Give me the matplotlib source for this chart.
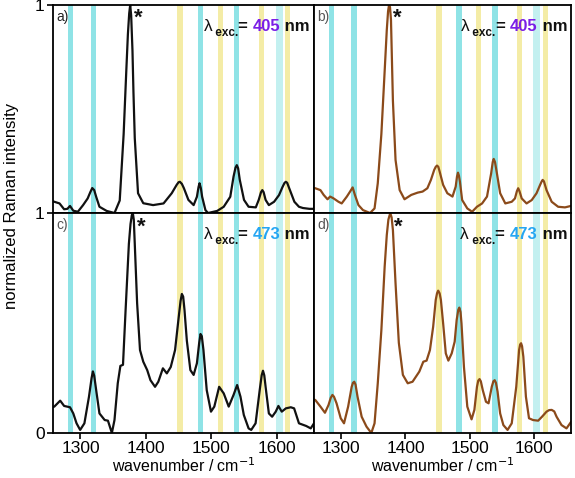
import matplotlib
matplotlib.use('Agg')
import matplotlib.pyplot as plt

plt.rcParams['font.family'] = ['Liberation Sans', 'DejaVu Sans']

# marker bands (cm-1): centre, width
cyan_bands = [1285, 1320, 1483, 1539]
yellow_bands = [1452, 1514, 1577, 1617]
pale_cyan_bands = [1604]
band_width = 8
pale_width = 11

# panel a) 405 nm, black
wn_a = [1258, 1260, 1268, 1275, 1280, 1284, 1289, 1296, 1304, 1311, 1315, 1318, 1321, 1324, 1329, 1340,
        1352, 1360, 1366, 1370, 1372.5, 1374.5, 1376, 1377.5, 1379.5, 1381, 1383, 1388, 1396, 1411, 1427,
        1439.5, 1447, 1450, 1452, 1455, 1458, 1465, 1473, 1478, 1480.5, 1482, 1484, 1486, 1491, 1495,
        1509, 1519, 1529, 1534, 1537, 1539, 1541, 1543.5, 1550, 1557, 1568, 1572.5, 1576, 1578, 1580,
        1583, 1588, 1596, 1603.5, 1609, 1612, 1614, 1616, 1619, 1627, 1634, 1640, 1650, 1657]
int_a = [0.056, 0.054, 0.046, 0.018, 0.02, 0.034, 0.011, 0.006, 0.038, 0.07, 0.1, 0.12, 0.11, 0.078, 0.03,
         0.01, 0.0, 0.06, 0.38, 0.68, 0.86, 0.96, 1.0, 0.95, 0.78, 0.58, 0.36, 0.095, 0.047, 0.038, 0.046,
         0.095, 0.135, 0.148, 0.15, 0.14, 0.12, 0.063, 0.038, 0.078, 0.125, 0.143, 0.12, 0.078, 0.014, 0.0,
         0.01, 0.03, 0.078, 0.175, 0.218, 0.23, 0.215, 0.16, 0.063, 0.03, 0.027, 0.063, 0.1, 0.11, 0.1,
         0.063, 0.038, 0.054, 0.086, 0.126, 0.145, 0.15, 0.145, 0.12, 0.054, 0.03, 0.024, 0.02, 0.02]

# panel b) 405 nm, brown
wn_b = [1258, 1260, 1268, 1273, 1279, 1283, 1288, 1296, 1301, 1309, 1314, 1318, 1321.5, 1327, 1334,
        1345, 1352, 1357, 1362.6, 1368, 1371, 1373, 1374.5, 1376, 1377.5, 1380.5, 1384.6, 1391, 1398.5,
        1409, 1419, 1426.6, 1434, 1439.5, 1444.6, 1447, 1449, 1451, 1453, 1458.5, 1465, 1473, 1478, 1480,
        1481.5, 1483, 1484.6, 1488, 1496, 1503.5, 1511, 1519, 1526.6, 1533, 1535.5, 1537, 1539, 1542,
        1547, 1555, 1565, 1570, 1573, 1575, 1577, 1580.5, 1588, 1596, 1603.5, 1609, 1611.5, 1613, 1615,
        1619, 1627, 1637, 1647.6, 1657]
int_b = [0.12, 0.119, 0.11, 0.087, 0.066, 0.079, 0.071, 0.054, 0.046, 0.079, 0.103, 0.123, 0.087, 0.038,
         0.014, 0.0, 0.022, 0.143, 0.38, 0.70, 0.88, 0.97, 1.0, 0.99, 0.93, 0.54, 0.255, 0.11, 0.066,
         0.087, 0.098, 0.103, 0.119, 0.159, 0.207, 0.222, 0.228, 0.222, 0.2, 0.135, 0.095, 0.079, 0.127,
         0.175, 0.194, 0.18, 0.15, 0.0625, 0.022, 0.006, 0.03, 0.046, 0.079, 0.19, 0.245, 0.26, 0.245,
         0.19, 0.095, 0.046, 0.054, 0.07, 0.105, 0.119, 0.105, 0.07, 0.046, 0.062, 0.095, 0.135, 0.152,
         0.159, 0.152, 0.11, 0.054, 0.03, 0.027, 0.034]

# panel c) 473 nm, black
wn_c = [1258, 1260, 1269, 1275, 1284, 1289, 1294, 1299.5, 1306, 1313, 1317, 1319, 1321, 1324, 1329, 1337,
        1342, 1348, 1352, 1357, 1361, 1365, 1369, 1374, 1376.5, 1378.5, 1380, 1381.5, 1383, 1386.6, 1391,
        1396, 1402, 1407, 1414, 1419, 1426, 1432, 1438, 1444.6, 1449.7, 1453, 1455, 1457, 1459, 1462.6,
        1468, 1473, 1478, 1481.5, 1483.5, 1485.5, 1488, 1493, 1499.5, 1504.6, 1512, 1519, 1526.6, 1534,
        1539.5, 1544.6, 1549.7, 1557, 1561, 1567.7, 1574, 1577, 1579, 1581, 1583, 1588, 1593, 1598.5,
        1602.6, 1607.7, 1614, 1621.5, 1626.6, 1634, 1645, 1652, 1657]
int_c = [0.118, 0.12, 0.147, 0.123, 0.117, 0.089, 0.044, 0.014, 0.044, 0.165, 0.25, 0.28, 0.26, 0.195,
         0.089, 0.059, 0.056, 0.0, 0.059, 0.226, 0.305, 0.31, 0.56, 0.86, 0.95, 0.99, 1.0, 0.97, 0.86,
         0.59, 0.377, 0.324, 0.286, 0.24, 0.21, 0.233, 0.294, 0.271, 0.30, 0.377, 0.514, 0.6, 0.632, 0.62,
         0.56, 0.42, 0.286, 0.264, 0.317, 0.41, 0.45, 0.44, 0.377, 0.195, 0.097, 0.12, 0.21, 0.18, 0.12,
         0.173, 0.218, 0.165, 0.082, 0.021, 0.014, 0.044, 0.195, 0.262, 0.283, 0.262, 0.21, 0.089, 0.074,
         0.097, 0.123, 0.097, 0.112, 0.117, 0.112, 0.044, 0.032, 0.021, 0.044]

# panel d) 473 nm, brown
wn_d = [1258, 1260, 1268, 1275, 1280.5, 1284, 1286.6, 1289, 1293, 1299.5, 1304.6, 1311, 1316.5, 1318.5,
        1320.5, 1322.5, 1325.6, 1332, 1339.5, 1347, 1352, 1357, 1362.6, 1367.7, 1371, 1373.5, 1376.4,
        1378.5, 1380.5, 1384.6, 1389.7, 1396, 1403.5, 1411, 1421.5, 1427.7, 1432.8, 1438, 1443, 1447,
        1449, 1450.8, 1453, 1455, 1458.5, 1462.6, 1466.6, 1471.8, 1476.4, 1479.5, 1482, 1483.6, 1485.5,
        1487, 1490.8, 1496, 1502.6, 1507, 1511, 1513, 1515, 1517, 1520, 1525, 1529, 1534, 1536.5, 1538.5,
        1540.5, 1543, 1547, 1552, 1558.5, 1565, 1572, 1576.4, 1578, 1579.5, 1581, 1583, 1587, 1591.8,
        1598, 1606, 1612, 1619, 1623, 1627, 1631, 1634.6, 1642.3, 1650, 1657]
int_d = [0.152, 0.15, 0.12, 0.092, 0.127, 0.16, 0.173, 0.165, 0.135, 0.067, 0.044, 0.12, 0.21, 0.228,
         0.233, 0.22, 0.165, 0.074, 0.029, 0.0, 0.044, 0.226, 0.468, 0.756, 0.9, 0.97, 1.0, 0.98, 0.923,
         0.68, 0.41, 0.264, 0.226, 0.233, 0.279, 0.324, 0.329, 0.377, 0.483, 0.605, 0.635, 0.647, 0.635,
         0.605, 0.498, 0.362, 0.329, 0.362, 0.415, 0.514, 0.56, 0.57, 0.55, 0.498, 0.30, 0.12, 0.062,
         0.105, 0.21, 0.238, 0.245, 0.235, 0.195, 0.142, 0.135, 0.21, 0.235, 0.24, 0.228, 0.188, 0.089,
         0.036, 0.014, 0.044, 0.21, 0.377, 0.402, 0.408, 0.395, 0.347, 0.165, 0.067, 0.059, 0.056, 0.074,
         0.097, 0.104, 0.105, 0.098, 0.074, 0.036, 0.021, 0.05]

peak_pos = [1376, 1374.5, 1380, 1376.4]
panel_tags = ['a)', 'b)', 'c)', 'd)']
exc_values = ['405', '405', '473', '473']
exc_colors = {'405': '#7a1ee6', '473': '#26a6f2'}
line_black = '#111111'
line_brown = '#8b4a1a'
cyan = '#8fe3e6'
pale_cyan = '#c3f0f0'
yellow = '#f4eca6'

W, H = 575, 478
fig = plt.figure(figsize=(W / 100, H / 100), dpi=100)


def px_axes(x0, y0, x1, y1):
    return fig.add_axes([x0 / W, 1 - y1 / H, (x1 - x0) / W, (y1 - y0) / H])


ax_a = px_axes(53, 5, 314, 213)
ax_b = px_axes(314, 5, 571, 213)
ax_c = px_axes(53, 213, 314, 433)
ax_d = px_axes(314, 213, 571, 433)
axes = [ax_a, ax_b, ax_c, ax_d]
series = [(wn_a, int_a, line_black), (wn_b, int_b, line_brown),
          (wn_c, int_c, line_black), (wn_d, int_d, line_brown)]

fig.canvas.draw()
renderer = fig.canvas.get_renderer()

for i, ax in enumerate(axes):
    for c in cyan_bands:
        ax.axvspan(c - band_width / 2, c + band_width / 2, color=cyan, lw=0, zorder=0)
    for c in yellow_bands:
        ax.axvspan(c - band_width / 2, c + band_width / 2, color=yellow, lw=0, zorder=0)
    for c in pale_cyan_bands:
        ax.axvspan(c - pale_width / 2, c + pale_width / 2, color=pale_cyan, lw=0, zorder=0)
    wn, inten, col = series[i]
    ax.plot(wn, inten, color=col, lw=1.6, zorder=2, solid_joinstyle='round')
    ax.set_xlim(1258, 1657)
    ax.set_ylim(0, 1)
    for s in ax.spines.values():
        s.set_linewidth(1.3)
    ax.tick_params(direction='out', length=4, width=1.2, labelsize=12.5, pad=2)
    bottom = i >= 2
    left = i % 2 == 0
    ax.set_xticks([1300, 1400, 1500, 1600])
    ax.tick_params(axis='x', bottom=bottom, labelbottom=bottom)
    if left:
        ax.set_yticks([0, 1] if bottom else [1])
        ax.set_yticklabels(['0', '1'] if bottom else ['1'])
    else:
        ax.set_yticks([])
    if bottom:
        ax.set_xlabel('wavenumber / cm$^{-1}$', fontsize=11.5, labelpad=0)
    ax.text(0.012, 0.975, panel_tags[i], transform=ax.transAxes, ha='left', va='top',
            fontsize=10, color='#222222' if i == 0 else '#555555')
    ax.text(peak_pos[i] + 6, 0.985, '*', ha='left', va='top', fontsize=16,
            fontweight='bold', color='#111111')

    # excitation wavelength label, built right to left
    pieces = [(' nm', 12, 'bold', '#111111', 0), (exc_values[i], 12, 'bold', exc_colors[exc_values[i]], 0),
              ('= ', 12, 'bold', '#111111', 0), (' exc.', 8.5, 'bold', '#111111', -5),
              ('\u03bb', 12.5, 'normal', '#111111', 0)]
    xpix = ax.transAxes.transform((1, 0))[0] - 4
    ypix = ax.transAxes.transform((0, 1))[1] - 26
    for txt, fs, fw, colr, dy in pieces:
        t = fig.text(xpix / W, (ypix + dy) / H, txt, ha='right', va='baseline',
                     fontsize=fs, fontweight=fw, color=colr)
        xpix -= t.get_window_extent(renderer).width

fig.text(12 / W, 1 - 206 / H, 'normalized Raman intensity', rotation=90, ha='center', va='center',
         fontsize=12)

fig.savefig('out.png', dpi=100)
